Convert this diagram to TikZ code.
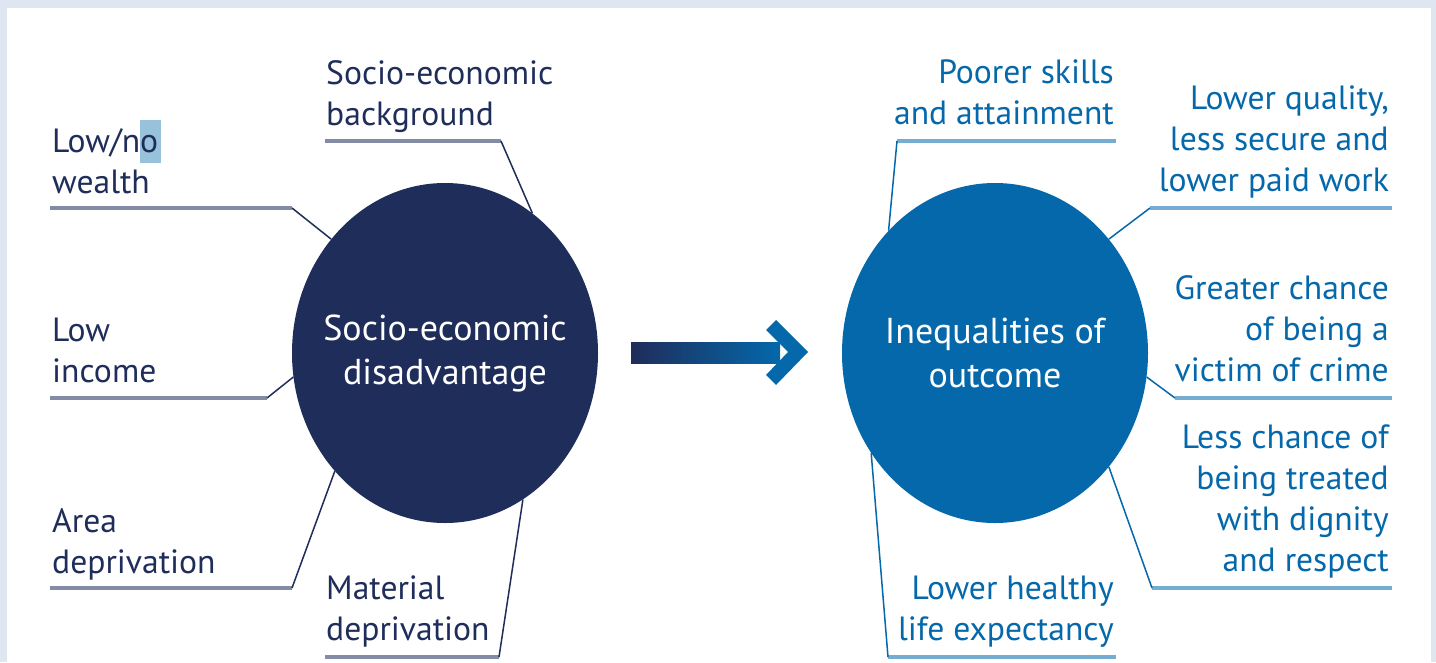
\documentclass[tikz,border=0pt]{standalone}
\usepackage{fontspec}
\setmainfont{PT Sans}
\usetikzlibrary{shapes.geometric}
\definecolor{navy}{RGB}{31,45,90}
\definecolor{oblue}{RGB}{4,104,171}
\definecolor{panelbg}{RGB}{221,230,241}
\definecolor{marked}{RGB}{152,194,220}
\tikzset{
    lbl/.style={inner sep=0pt, font=\fontsize{33.6}{41}\selectfont},
    bubble/.style={ellipse, minimum width=306pt, minimum height=340pt, inner sep=0pt},
    bubbletext/.style={text=white, align=center, inner sep=0pt, font=\fontsize{36}{44}\selectfont},
    ul/.style={line width=4pt},
    lnk/.style={line width=1.5pt}
}
\begin{document}
\begin{tikzpicture}[x=1pt, y=-1pt]
                \useasboundingbox (0,0) rectangle (1436,662);
                \fill[panelbg] (0,0) rectangle (1436,662);
                \fill[white] (7,8) rectangle (1431,662);
                \fill[marked] (140,120) rectangle (161,163);
                \node[bubble, fill=navy] (dis) at (445,353) {};
                \node[bubbletext] (dis-t) at (dis) {Socio-economic\\disadvantage};
                \node[bubble, fill=oblue] (ine) at (995,353) {};
                \node[bubbletext] (ine-t) at (ine) {Inequalities of\\outcome};
                \shade[left color=navy, right color=oblue, shading angle=90] (631,342) rectangle (780,363);
                \fill[oblue] (766,330) -- (776,320) -- (808,352) -- (776,385) -- (766,375) -- (788,352) -- cycle;
                \begin{scope}[navy]
                    \node[lbl, navy, anchor=north west, align=left] (wealth) at (52,128) {Low/no\\wealth};
                    \node[lbl, navy, anchor=north west, align=left] (backg) at (326,60) {Socio-economic\\background};
                    \node[lbl, navy, anchor=north west, align=left] (income) at (52,318) {Low\\income};
                    \node[lbl, navy, anchor=north west, align=left] (area) at (52,508) {Area\\deprivation};
                    \node[lbl, navy, anchor=north west, align=left] (mater) at (326,576) {Material\\deprivation};
                    \coordinate (wealth-a) at (50,208);   \coordinate (wealth-b) at (292,208);
                    \coordinate (backg-a) at (325,141);   \coordinate (backg-b) at (501,141);
                    \coordinate (income-a) at (50,398);   \coordinate (income-b) at (267,398);
                    \coordinate (area-a) at (50,588);     \coordinate (area-b) at (292,588);
                    \coordinate (mater-a) at (325,657);   \coordinate (mater-b) at (499,657);
                    \foreach \n/\a in {wealth/135,backg/58,income/189,area/227,mater/298}
                        {
                            \draw[ul, navy!55] (\n-a) -- (\n-b);
                            \draw[lnk] (\n-b) -- (dis.\a);
                        }
                \end{scope}
                \begin{scope}[oblue]
                    \node[lbl, oblue, anchor=north east, align=right] (skills) at (1114,60) {Poorer skills\\and attainment};
                    \node[lbl, oblue, anchor=north east, align=right] (work) at (1389,86) {Lower quality,\\less secure and\\lower paid work};
                    \node[lbl, oblue, anchor=north east, align=right] (crime) at (1389,275) {Greater chance\\of being a\\victim of crime};
                    \node[lbl, oblue, anchor=north east, align=right] (dign) at (1389,425) {Less chance of\\being treated\\with dignity\\and respect};
                    \node[lbl, oblue, anchor=north east, align=right] (life) at (1114,576) {Lower healthy\\life expectancy};
                    \coordinate (skills-a) at (1116,141); \coordinate (skills-b) at (897,141);
                    \coordinate (work-a) at (1392,208);   \coordinate (work-b) at (1150,208);
                    \coordinate (crime-a) at (1392,398);  \coordinate (crime-b) at (1175,398);
                    \coordinate (dign-a) at (1392,588);   \coordinate (dign-b) at (1152,588);
                    \coordinate (life-a) at (1116,657);   \coordinate (life-b) at (888,657);
                    \foreach \n/\a in {skills/131,work/45,crime/351,dign/315,life/219}
                        {
                            \draw[ul, oblue!55] (\n-a) -- (\n-b);
                            \draw[lnk] (\n-b) -- (ine.\a);
                        }
                \end{scope}
            \end{tikzpicture}
\end{document}
